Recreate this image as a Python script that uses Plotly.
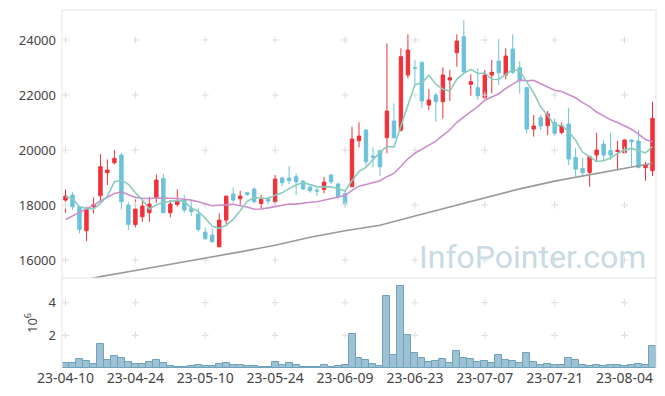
import plotly.graph_objects as go
from plotly.subplots import make_subplots

dates = [
    "23-04-10", "23-04-11", "23-04-12", "23-04-13", "23-04-14",
    "23-04-17", "23-04-18", "23-04-19", "23-04-20", "23-04-21",
    "23-04-24", "23-04-25", "23-04-26", "23-04-27", "23-04-28",
    "23-05-02", "23-05-03", "23-05-04", "23-05-08", "23-05-09",
    "23-05-10", "23-05-11", "23-05-12", "23-05-15", "23-05-16",
    "23-05-17", "23-05-18", "23-05-19", "23-05-22", "23-05-23",
    "23-05-24", "23-05-25", "23-05-26", "23-05-30", "23-05-31",
    "23-06-01", "23-06-02", "23-06-05", "23-06-07", "23-06-08",
    "23-06-09", "23-06-12", "23-06-13", "23-06-14", "23-06-15",
    "23-06-16", "23-06-19", "23-06-20", "23-06-21", "23-06-22",
    "23-06-23", "23-06-26", "23-06-27", "23-06-28", "23-06-29",
    "23-06-30", "23-07-03", "23-07-04", "23-07-05", "23-07-06",
    "23-07-07", "23-07-10", "23-07-11", "23-07-12", "23-07-13",
    "23-07-14", "23-07-17", "23-07-18", "23-07-19", "23-07-20",
    "23-07-21", "23-07-24", "23-07-25", "23-07-26", "23-07-27",
    "23-07-28", "23-07-31", "23-08-01", "23-08-02", "23-08-03",
    "23-08-04", "23-08-07", "23-08-08", "23-08-09", "23-08-10",
]

open_ = [18182, 18364, 17939, 17067, 17939, 18339, 19176, 19539, 19818, 18000,
         17297, 17576, 17721, 18279, 18970, 17721, 18024, 18206, 17867, 17673,
         17018, 16909, 16485, 17455, 18400, 18230, 18448, 18582, 18061, 18206,
         18121, 18982, 18982, 19030, 18873, 18655, 18545, 18570, 19091, 18764,
         18424, 18667, 20339, 20727, 19780, 19976, 20448, 21055, 20727, 22727,
         22994, 23176, 21636, 22000, 21758, 22545, 23539, 24121, 22388, 22267,
         21903, 22727, 23236, 22727, 23673, 22994, 22267, 20764, 21176, 20885,
         21006, 20642, 20945, 19733, 19333, 19188, 19818, 20218, 19976, 19950,
         19903, 20364, 20327, 19358, 19248]
high = [18570, 18461, 17963, 17939, 18279, 19855, 19661, 20000, 19903, 18121,
        18206, 18182, 18303, 19115, 19127, 18182, 18570, 18364, 18158, 17903,
        17188, 17152, 17697, 18327, 18642, 18521, 18485, 18642, 18364, 18303,
        19091, 19030, 19418, 19152, 18909, 18764, 18667, 19030, 19127, 18812,
        18545, 20848, 21006, 20764, 20097, 20000, 23879, 21697, 23697, 24206,
        23273, 23236, 22218, 22097, 23006, 22909, 24206, 24727, 22752, 22970,
        22909, 23273, 24036, 23697, 24206, 23236, 22300, 21273, 21273, 21418,
        21152, 21006, 21539, 20085, 19721, 19790, 20630, 20364, 20630, 20340,
        20388, 20388, 20727, 19576, 21758]
low = [17721, 17818, 16970, 16691, 17697, 18121, 18727, 19479, 17842, 17091,
       17188, 17394, 17394, 18085, 17697, 17552, 17939, 17721, 17600, 17030,
       16752, 16642, 16485, 17309, 18085, 17988, 18327, 18061, 17879, 18024,
       18036, 18667, 18764, 18364, 18545, 18448, 18339, 18424, 18764, 18206,
       17939, 18667, 20097, 19394, 19370, 19067, 19879, 20424, 20667, 22606,
       22364, 21539, 21455, 21030, 21152, 21782, 23030, 22788, 21976, 21818,
       21855, 22061, 22364, 22582, 22752, 22061, 20606, 20485, 20727, 20545,
       20521, 20570, 19455, 19030, 19030, 18667, 19576, 19636, 19636, 19273,
       19879, 19418, 19333, 18885, 19055]
close = [18327, 17939, 17115, 17855, 18012, 19394, 19273, 19697, 18121, 17297,
         17855, 17964, 18036, 18909, 17721, 18036, 18145, 17818, 17758, 17115,
         16776, 16667, 17455, 18327, 18182, 18327, 18388, 18121, 18206, 18145,
         18945, 18812, 18885, 18848, 18594, 18521, 18509, 18836, 18848, 18303,
         18061, 20400, 20509, 19576, 19740, 19394, 21418, 20448, 23394, 23636,
         22970, 21782, 21818, 21758, 22727, 22630, 23964, 22848, 22485, 21976,
         22727, 22824, 22812, 23418, 22824, 22509, 20764, 20873, 20873, 21309,
         20606, 20873, 19673, 19309, 19176, 19758, 20000, 19818, 19818, 19990,
         20364, 20303, 19370, 19455, 21152]

# volume in millions of shares
volume = [0.33, 0.33, 0.57, 0.45, 0.27, 1.49, 0.51, 0.76, 0.63, 0.39,
          0.27, 0.27, 0.39, 0.51, 0.33, 0.14, 0.08, 0.08, 0.14, 0.20,
          0.14, 0.14, 0.27, 0.33, 0.20, 0.20, 0.14, 0.14, 0.08, 0.08,
          0.39, 0.20, 0.33, 0.20, 0.08, 0.08, 0.08, 0.20, 0.08, 0.14,
          0.20, 2.10, 0.63, 0.51, 0.27, 0.14, 4.39, 0.82, 5.00, 2.04,
          0.94, 0.63, 0.39, 0.45, 0.57, 0.33, 1.06, 0.63, 0.57, 0.39,
          0.45, 0.33, 0.82, 0.51, 0.45, 0.33, 0.94, 0.39, 0.20, 0.27,
          0.20, 0.20, 0.63, 0.51, 0.20, 0.14, 0.20, 0.14, 0.20, 0.20,
          0.14, 0.20, 0.27, 0.20, 1.37]

# moving-average values before enough visible history
ma5_head = [18300, 18240, 17940, 17880]
ma20_head = [17479, 17600, 17730, 17850, 17990, 18150, 18300, 18420, 18480, 18370,
             18280, 18250, 18240, 18260, 18260, 18250, 18240, 18210, 18180]
# 60-day moving average
ma60_dates = ["23-04-10", "23-04-17", "23-04-24", "23-05-02", "23-05-10", "23-05-17",
              "23-05-24", "23-06-01", "23-06-09", "23-06-16", "23-06-23", "23-06-30",
              "23-07-07", "23-07-14", "23-07-21", "23-07-28", "23-08-04", "23-08-10"]
ma60_vals = [15110, 15400, 15620, 15840, 16070, 16300, 16540, 16830, 17070, 17270,
             17600, 17930, 18240, 18590, 18870, 19100, 19330, 19520]

tick_dates = dates[::10]
price_ticks = [16000, 18000, 20000, 22000, 24000]
vol_ticks = [2, 4]

N = len(dates)
ma5 = ma5_head + [sum(close[i - 4:i + 1]) / 5 for i in range(4, N)]
ma20 = ma20_head + [sum(close[i - 19:i + 1]) / 20 for i in range(19, N)]

RED = "#ef3139"
BLUE = "#6cc2da"
FONT = "Noto Sans"

vol_frac = 90 / 358

fig = make_subplots(rows=2, cols=1, shared_xaxes=True, vertical_spacing=0,
                    row_heights=[1 - vol_frac, vol_frac])

cross = dict(symbol="cross-thin", size=5, line=dict(color="#dddddd", width=1))
fig.add_trace(go.Scatter(
    x=[d for d in tick_dates for _ in price_ticks],
    y=[p for _ in tick_dates for p in price_ticks],
    mode="markers", hoverinfo="skip", marker=cross), row=1, col=1)
fig.add_trace(go.Scatter(
    x=[d for d in tick_dates for _ in vol_ticks],
    y=[p for _ in tick_dates for p in vol_ticks],
    mode="markers", hoverinfo="skip", marker=cross), row=2, col=1)

fig.add_trace(go.Scatter(x=ma60_dates, y=ma60_vals, mode="lines",
                         line=dict(color="#999999", width=1.6)), row=1, col=1)
fig.add_trace(go.Scatter(x=dates, y=ma20, mode="lines",
                         line=dict(color="#cc8ec8", width=1.6)), row=1, col=1)
fig.add_trace(go.Scatter(x=dates, y=ma5, mode="lines",
                         line=dict(color="#8acbbd", width=1.6)), row=1, col=1)

fig.add_trace(go.Candlestick(
    x=dates, open=open_, high=high, low=low, close=close,
    increasing=dict(line=dict(color=RED, width=1), fillcolor=RED),
    decreasing=dict(line=dict(color=BLUE, width=1), fillcolor=BLUE),
    whiskerwidth=0,
), row=1, col=1)

fig.add_trace(go.Bar(x=dates, y=volume,
                     marker=dict(color="#9cc2d3", line=dict(color="#6fa2ba", width=1))),
              row=2, col=1)

xa = dict(type="category", categoryorder="array", categoryarray=dates,
          range=[-0.5, N - 0.5], showgrid=False, zeroline=False, showline=False,
          tickmode="array", tickvals=tick_dates, ticktext=tick_dates, ticks="",
          rangeslider=dict(visible=False), tickfont=dict(size=14))
fig.update_xaxes(**xa)
fig.update_xaxes(showticklabels=False, row=1, col=1)
fig.update_xaxes(showticklabels=True, row=2, col=1)

fig.update_yaxes(range=[15350, 25090], tickvals=price_ticks, tickformat="d",
                 showgrid=False, zeroline=False, ticks="", ticklabelstandoff=5,
                 row=1, col=1)
fig.update_yaxes(range=[0, 5.51], tickvals=vol_ticks, showgrid=False,
                 zeroline=False, ticks="", ticklabelstandoff=5,
                 title=dict(text="10<sup>6</sup>", standoff=8, font=dict(size=13)),
                 row=2, col=1)

line_col = "#e4e4e4"
shapes = [
    dict(type="line", xref="paper", yref="paper", x0=0, x1=0, y0=0, y1=1),
    dict(type="line", xref="paper", yref="paper", x0=1, x1=1, y0=0, y1=1),
    dict(type="line", xref="paper", yref="paper", x0=0, x1=1, y0=1, y1=1),
    dict(type="line", xref="paper", yref="paper", x0=0, x1=1, y0=vol_frac, y1=vol_frac),
]
for s in shapes:
    s["line"] = dict(color=line_col, width=1)

fig.update_layout(
    width=665, height=396,
    margin=dict(l=62, r=9, t=10, b=28),
    paper_bgcolor="white", plot_bgcolor="white",
    showlegend=False, bargap=0,
    font=dict(family=FONT, size=13, color="#444444"),
    shapes=shapes,
    annotations=[dict(text="InfoPointer.com", xref="paper", yref="paper",
                      x=0.986, y=(368 - 257) / 358, xanchor="right", yanchor="middle",
                      showarrow=False,
                      font=dict(family="Roboto", size=32, color="#c8dae4"))],
)

fig.write_html("out.html", config={"displayModeBar": False},
               post_script="document.body.style.margin='0';document.body.style.padding='0';")
